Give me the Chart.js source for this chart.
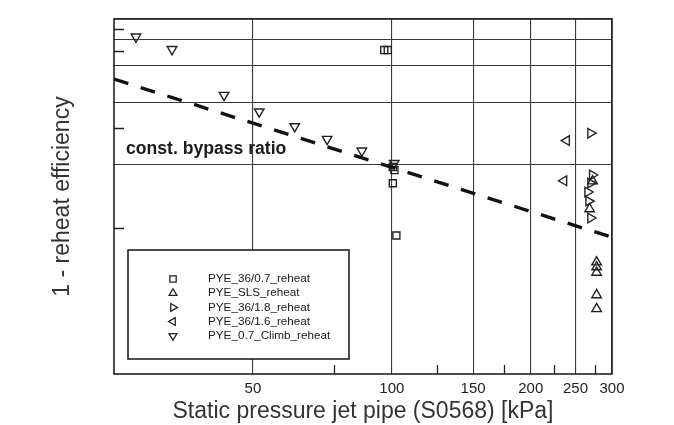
<!DOCTYPE html>
<html>
<head>
<meta charset="utf-8">
<script src="https://cdn.jsdelivr.net/npm/chart.js@4/dist/chart.umd.min.js"></script>
<style>
    html, body { margin: 0; padding: 0; background: #fff; }
    #wrap { width: 674px; height: 425px; }
</style>
</head>
<body>
<div id="wrap"><canvas id="chart" width="674" height="425"></canvas></div>
<script>
// ─── Data ──────────────────────────────────────────────────────────────────
const xTickValues  = [50, 100, 150, 200, 250, 300];
const xMinorTicks  = [75, 125, 175, 225, 275];
const yGridValues  = [0.1, 0.2, 0.3, 0.4, 0.5];
const yMinorTicks  = [0.05, 0.15, 0.35, 0.45];

const sq07X   = [96.3, 98.0, 100.5, 101.3, 100.5, 102.3];
const sq07Y   = [0.355, 0.355, 0.0978, 0.0946, 0.0818, 0.046];

const slsX    = [272.3, 268.3, 277.8, 277.8, 277.8, 277.8, 277.8];
const slsY    = [0.0838, 0.0616, 0.0343, 0.0325, 0.0306, 0.0239, 0.0205];

const r18X    = [269.6, 271.9, 269.6, 265.7, 267.0, 269.6];
const r18Y    = [0.142, 0.0896, 0.082, 0.0743, 0.0672, 0.0558];

const r16X    = [239.2, 236.0];
const r16Y    = [0.131, 0.0841];

const climbX  = [27.9, 33.4, 43.3, 51.6, 61.6, 72.4, 86.1, 101.2];
const climbY  = [0.411, 0.358, 0.216, 0.180, 0.153, 0.133, 0.117, 0.102];

const bypassX = [25, 300];
const bypassY = [0.258, 0.0451];

const INK = '#222';
const FONT = '"Liberation Sans", Arial, sans-serif';

function pairs(xs, ys) {
    return xs.map((x, i) => ({ x, y: ys[i] }));
}

function markerSet(label, xs, ys, style, rotation) {
    return {
        label,
        data: pairs(xs, ys),
        pointStyle: style,
        rotation,
        pointRadius: style === 'rect' ? 5 : 5.5,
        pointBorderWidth: 1.4,
        pointBorderColor: INK,
        pointBackgroundColor: 'rgba(0,0,0,0)',
        showLine: false,
        inLegend: true,
    };
}

// ─── Extra drawing: frame, inward minor ticks, note, boxed legend ─────────
const decorPlugin = {
    id: 'decor',
    afterDraw(chart) {
        const { ctx, chartArea: a, scales: { x, y } } = chart;
        ctx.save();

        // frame
        ctx.strokeStyle = INK;
        ctx.lineWidth = 1.6;
        ctx.strokeRect(a.left, a.top, a.right - a.left, a.bottom - a.top);

        // minor ticks pointing inward
        ctx.lineWidth = 1.3;
        ctx.beginPath();
        xMinorTicks.forEach(v => {
            const px = Math.round(x.getPixelForValue(v)) + 0.5;
            ctx.moveTo(px, a.bottom);
            ctx.lineTo(px, a.bottom - 9);
        });
        yMinorTicks.forEach(v => {
            const py = Math.round(y.getPixelForValue(v)) + 0.5;
            ctx.moveTo(a.left, py);
            ctx.lineTo(a.left + 10, py);
        });
        ctx.stroke();

        // note
        ctx.fillStyle = '#1a1a1a';
        ctx.font = `bold 17.6px ${FONT}`;
        ctx.textBaseline = 'middle';
        ctx.fillText('const. bypass ratio', a.left + 12, 149);

        // legend box
        const bx = a.left + 14, by = 250, bw = 221, bh = 109;
        ctx.fillStyle = '#fff';
        ctx.fillRect(bx, by, bw, bh);
        ctx.lineWidth = 1.6;
        ctx.strokeStyle = INK;
        ctx.strokeRect(bx, by, bw, bh);

        ctx.font = `11.7px ${FONT}`;
        const items = chart.data.datasets.filter(d => d.inLegend);
        items.forEach((d, i) => {
            const cy = 279 + i * 14.2;
            ctx.strokeStyle = INK;
            ctx.fillStyle = 'rgba(0,0,0,0)';
            ctx.lineWidth = 1.3;
            Chart.helpers.drawPoint(ctx, {
                pointStyle: d.pointStyle,
                rotation: d.rotation,
                radius: 4.5,
                borderWidth: 1.3,
            }, bx + 45, cy);
            ctx.fillStyle = '#1a1a1a';
            ctx.fillText(d.label, bx + 80, cy);
        });

        ctx.restore();
    },
};

new Chart(document.getElementById('chart'), {
    type: 'scatter',
    data: {
        datasets: [
            {
                label: 'const. bypass ratio',
                data: pairs(bypassX, bypassY),
                showLine: true,
                borderColor: '#111',
                borderWidth: 3.4,
                borderDash: [15, 13],
                pointRadius: 0,
                inLegend: false,
            },
            markerSet('PYE_36/0.7_reheat',     sq07X,  sq07Y,  'rect',     0),
            markerSet('PYE_SLS_reheat',        slsX,   slsY,   'triangle', 0),
            markerSet('PYE_36/1.8_reheat',     r18X,   r18Y,   'triangle', 90),
            markerSet('PYE_36/1.6_reheat',     r16X,   r16Y,   'triangle', 270),
            markerSet('PYE_0.7_Climb_reheat',  climbX, climbY, 'triangle', 180),
        ],
    },
    options: {
        responsive: false,
        animation: false,
        devicePixelRatio: 1,
        layout: { padding: { left: 0, top: 19, right: 62, bottom: 0 } },
        plugins: {
            legend:  { display: false },
            tooltip: { enabled: false },
        },
        scales: {
            x: {
                type: 'logarithmic',
                min: 25,
                max: 300,
                afterBuildTicks: s => { s.ticks = xTickValues.map(v => ({ value: v })); },
                afterFit: s => { s.height = 51; },
                grid:   { color: '#3a3a3a', lineWidth: 1.1, drawTicks: false },
                border: { display: false },
                ticks: {
                    color: INK,
                    padding: 6,
                    maxRotation: 0,
                    autoSkip: false,
                    font: { family: FONT, size: 15 },
                    callback: v => String(v),
                },
                title: {
                    display: true,
                    text: 'Static pressure jet pipe (S0568) [kPa]',
                    color: '#333',
                    padding: { top: 0, bottom: 0 },
                    font: { family: FONT, size: 23 },
                },
            },
            y: {
                type: 'logarithmic',
                min: 0.01,
                max: 0.5,
                afterBuildTicks: s => { s.ticks = yGridValues.map(v => ({ value: v })); },
                afterFit: s => { s.width = 114; },
                grid:   { color: '#3a3a3a', lineWidth: 1.1, drawTicks: false },
                border: { display: false },
                ticks:  { display: false },
                title: {
                    display: true,
                    text: '1 - reheat efficiency',
                    color: '#333',
                    padding: { top: 49, bottom: 0 },
                    font: { family: FONT, size: 23 },
                },
            },
        },
    },
    plugins: [decorPlugin],
});
</script>
</body>
</html>
